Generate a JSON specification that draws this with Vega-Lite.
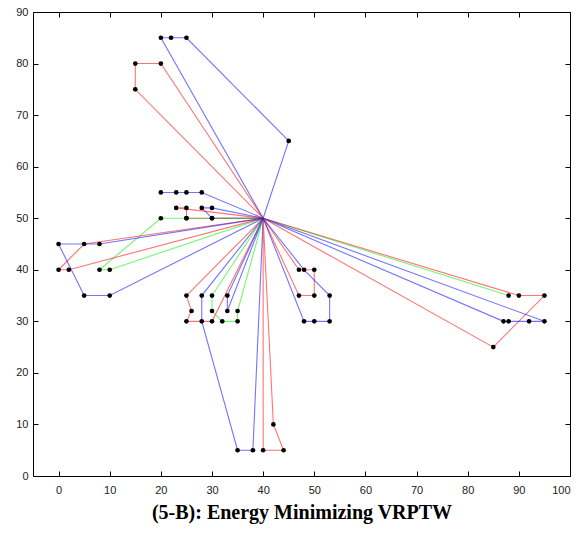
{
  "$schema": "https://vega.github.io/schema/vega-lite/v6.json",
  "width": 537,
  "height": 464,
  "autosize": {"type": "none"},
  "padding": {"left": 33, "top": 12, "right": 17, "bottom": 59},
  "background": "white",
  "config": {
    "view": {"stroke": null},
    "axis": {
      "grid": false,
      "domainColor": "#000000",
      "domainWidth": 1,
      "tickColor": "#000000",
      "tickSize": -5,
      "labelFont": "Liberation Sans",
      "labelFontSize": 11,
      "labelColor": "#222222"
    }
  },
  "data": {
    "values": [
      {"r": 1, "s": 0, "x": 40, "y": 50, "c": "blue"},
      {"r": 1, "s": 1, "x": 20, "y": 85, "c": "blue"},
      {"r": 1, "s": 2, "x": 22, "y": 85, "c": "blue"},
      {"r": 1, "s": 3, "x": 25, "y": 85, "c": "blue"},
      {"r": 1, "s": 4, "x": 45, "y": 65, "c": "blue"},
      {"r": 1, "s": 5, "x": 40, "y": 50, "c": "blue"},
      {"r": 2, "s": 0, "x": 40, "y": 50, "c": "red"},
      {"r": 2, "s": 1, "x": 20, "y": 80, "c": "red"},
      {"r": 2, "s": 2, "x": 15, "y": 80, "c": "red"},
      {"r": 2, "s": 3, "x": 15, "y": 75, "c": "red"},
      {"r": 2, "s": 4, "x": 40, "y": 50, "c": "red"},
      {"r": 3, "s": 0, "x": 40, "y": 50, "c": "blue"},
      {"r": 3, "s": 1, "x": 28, "y": 55, "c": "blue"},
      {"r": 3, "s": 2, "x": 25, "y": 55, "c": "blue"},
      {"r": 3, "s": 3, "x": 23, "y": 55, "c": "blue"},
      {"r": 3, "s": 4, "x": 20, "y": 55, "c": "blue"},
      {"r": 4, "s": 0, "x": 40, "y": 50, "c": "blue"},
      {"r": 4, "s": 1, "x": 30, "y": 52, "c": "blue"},
      {"r": 4, "s": 2, "x": 28, "y": 52, "c": "blue"},
      {"r": 4, "s": 3, "x": 30, "y": 50, "c": "blue"},
      {"r": 4, "s": 4, "x": 40, "y": 50, "c": "blue"},
      {"r": 5, "s": 0, "x": 40, "y": 50, "c": "red"},
      {"r": 5, "s": 1, "x": 23, "y": 52, "c": "red"},
      {"r": 5, "s": 2, "x": 25, "y": 52, "c": "red"},
      {"r": 5, "s": 3, "x": 25, "y": 50, "c": "red"},
      {"r": 5, "s": 4, "x": 30, "y": 50.001, "c": "red"},
      {"r": 5, "s": 5, "x": 40, "y": 50, "c": "red"},
      {"r": 6, "s": 0, "x": 40, "y": 50, "c": "green"},
      {"r": 6, "s": 1, "x": 10, "y": 40, "c": "green"},
      {"r": 6, "s": 2, "x": 8, "y": 40, "c": "green"},
      {"r": 6, "s": 3, "x": 20, "y": 50, "c": "green"},
      {"r": 6, "s": 4, "x": 25, "y": 50.001, "c": "green"},
      {"r": 6, "s": 5, "x": 40, "y": 50, "c": "green"},
      {"r": 7, "s": 0, "x": 40, "y": 50, "c": "red"},
      {"r": 7, "s": 1, "x": 5, "y": 45, "c": "red"},
      {"r": 7, "s": 2, "x": 0, "y": 40, "c": "red"},
      {"r": 7, "s": 3, "x": 2, "y": 40, "c": "red"},
      {"r": 7, "s": 4, "x": 40, "y": 50, "c": "red"},
      {"r": 8, "s": 0, "x": 40, "y": 50, "c": "blue"},
      {"r": 8, "s": 1, "x": 8, "y": 45, "c": "blue"},
      {"r": 8, "s": 2, "x": 0, "y": 45, "c": "blue"},
      {"r": 8, "s": 3, "x": 5, "y": 35, "c": "blue"},
      {"r": 8, "s": 4, "x": 10, "y": 35, "c": "blue"},
      {"r": 8, "s": 5, "x": 40, "y": 50, "c": "blue"},
      {"r": 9, "s": 0, "x": 40, "y": 50, "c": "red"},
      {"r": 9, "s": 1, "x": 25, "y": 35, "c": "red"},
      {"r": 9, "s": 2, "x": 26, "y": 32, "c": "red"},
      {"r": 9, "s": 3, "x": 25, "y": 30, "c": "red"},
      {"r": 9, "s": 4, "x": 30, "y": 30, "c": "red"},
      {"r": 9, "s": 5, "x": 40, "y": 50, "c": "red"},
      {"r": 10, "s": 0, "x": 40, "y": 50, "c": "blue"},
      {"r": 10, "s": 1, "x": 28, "y": 35, "c": "blue"},
      {"r": 10, "s": 2, "x": 28, "y": 30, "c": "blue"},
      {"r": 10, "s": 3, "x": 35, "y": 5, "c": "blue"},
      {"r": 10, "s": 4, "x": 38, "y": 5, "c": "blue"},
      {"r": 10, "s": 5, "x": 40, "y": 50, "c": "blue"},
      {"r": 11, "s": 0, "x": 40, "y": 50, "c": "green"},
      {"r": 11, "s": 1, "x": 30, "y": 35, "c": "green"},
      {"r": 11, "s": 2, "x": 30, "y": 32, "c": "green"},
      {"r": 11, "s": 3, "x": 32, "y": 30, "c": "green"},
      {"r": 11, "s": 4, "x": 35, "y": 30, "c": "green"},
      {"r": 11, "s": 5, "x": 35, "y": 32, "c": "green"},
      {"r": 11, "s": 6, "x": 40, "y": 50, "c": "green"},
      {"r": 12, "s": 0, "x": 40, "y": 50, "c": "blue"},
      {"r": 12, "s": 1, "x": 33, "y": 35, "c": "blue"},
      {"r": 12, "s": 2, "x": 33, "y": 32, "c": "blue"},
      {"r": 12, "s": 3, "x": 40, "y": 50, "c": "blue"},
      {"r": 13, "s": 0, "x": 40, "y": 50, "c": "red"},
      {"r": 13, "s": 1, "x": 40, "y": 5, "c": "red"},
      {"r": 13, "s": 2, "x": 44, "y": 5, "c": "red"},
      {"r": 13, "s": 3, "x": 42, "y": 10, "c": "red"},
      {"r": 13, "s": 4, "x": 40, "y": 50, "c": "red"},
      {"r": 14, "s": 0, "x": 40, "y": 50, "c": "red"},
      {"r": 14, "s": 1, "x": 47, "y": 40, "c": "red"},
      {"r": 14, "s": 2, "x": 50, "y": 40, "c": "red"},
      {"r": 14, "s": 3, "x": 50, "y": 35, "c": "red"},
      {"r": 14, "s": 4, "x": 47, "y": 35, "c": "red"},
      {"r": 14, "s": 5, "x": 40, "y": 50, "c": "red"},
      {"r": 15, "s": 0, "x": 40, "y": 50, "c": "blue"},
      {"r": 15, "s": 1, "x": 48, "y": 40, "c": "blue"},
      {"r": 15, "s": 2, "x": 53, "y": 35, "c": "blue"},
      {"r": 15, "s": 3, "x": 53, "y": 30, "c": "blue"},
      {"r": 15, "s": 4, "x": 50, "y": 30, "c": "blue"},
      {"r": 15, "s": 5, "x": 48, "y": 30, "c": "blue"},
      {"r": 15, "s": 6, "x": 40, "y": 50, "c": "blue"},
      {"r": 16, "s": 0, "x": 40, "y": 50, "c": "green"},
      {"r": 16, "s": 1, "x": 88, "y": 35, "c": "green"},
      {"r": 16, "s": 2, "x": 40, "y": 50, "c": "green"},
      {"r": 17, "s": 0, "x": 40, "y": 50, "c": "red"},
      {"r": 17, "s": 1, "x": 90, "y": 35, "c": "red"},
      {"r": 17, "s": 2, "x": 95, "y": 35, "c": "red"},
      {"r": 17, "s": 3, "x": 85, "y": 25, "c": "red"},
      {"r": 17, "s": 4, "x": 40, "y": 50, "c": "red"},
      {"r": 18, "s": 0, "x": 40, "y": 50, "c": "blue"},
      {"r": 18, "s": 1, "x": 87, "y": 30, "c": "blue"},
      {"r": 18, "s": 2, "x": 88, "y": 30, "c": "blue"},
      {"r": 18, "s": 3, "x": 92, "y": 30, "c": "blue"},
      {"r": 18, "s": 4, "x": 95, "y": 30, "c": "blue"},
      {"r": 18, "s": 5, "x": 40, "y": 50, "c": "blue"}
    ]
  },
  "layer": [
    {
      "mark": {"type": "line", "strokeWidth": 1.1, "opacity": 0.55},
      "encoding": {
        "x": {"field": "x", "type": "quantitative", "scale": {"domain": [-5, 100], "nice": false, "zero": false},
              "axis": {"orient": "bottom", "values": [0,10,20,30,40,50,60,70,80,90,100], "labelPadding": 13,
                       "title": "(5-B): Energy Minimizing VRPTW", "titleFont": "Liberation Serif", "titleFontSize": 20,
                       "titleFontWeight": "bold", "titleColor": "#000000", "titlePadding": 7}},
        "y": {"field": "y", "type": "quantitative", "scale": {"domain": [0, 90], "nice": false, "zero": false},
              "axis": {"orient": "left", "values": [0,10,20,30,40,50,60,70,80,90], "labelPadding": 10, "title": null}},
        "color": {"field": "c", "type": "nominal", "scale": {"domain": ["blue", "red", "green"], "range": ["#0000ff", "#ff0000", "#00ee00"]}, "legend": null},
        "detail": {"field": "r"},
        "order": {"field": "s"}
      }
    },
    {
      "transform": [{"filter": "datum.x != 40 || datum.y != 50"}],
      "mark": {"type": "point", "filled": true, "size": 22, "color": "#000000", "opacity": 1},
      "encoding": {
        "x": {"field": "x", "type": "quantitative", "axis": {"orient": "top", "values": [0,10,20,30,40,50,60,70,80,90,100], "labels": false, "title": null}},
        "y": {"field": "y", "type": "quantitative", "axis": {"orient": "right", "values": [0,10,20,30,40,50,60,70,80,90], "labels": false, "title": null}}
      }
    }
  ],
  "resolve": {"axis": {"x": "independent", "y": "independent"}}
}
